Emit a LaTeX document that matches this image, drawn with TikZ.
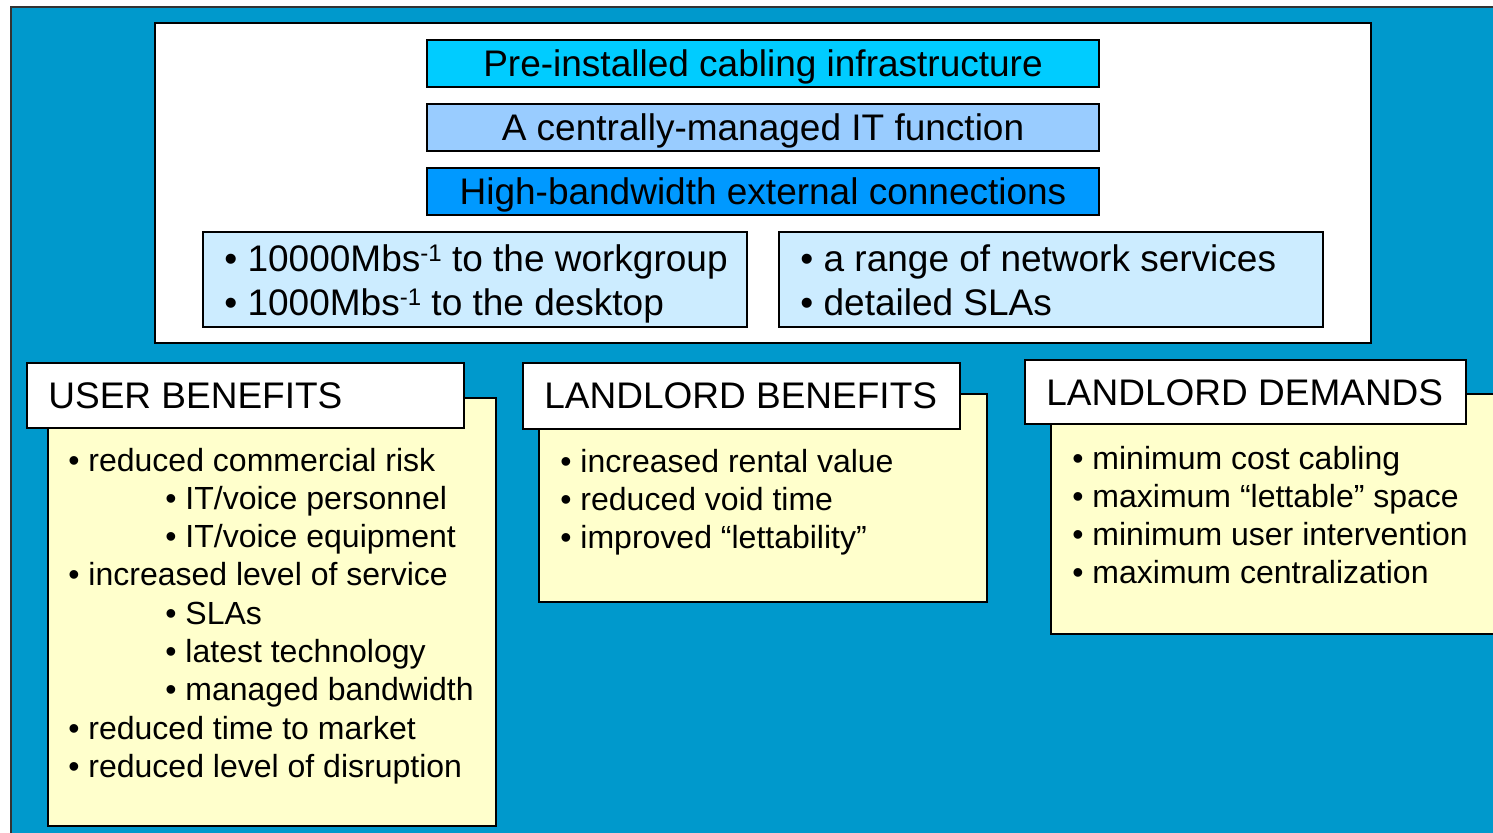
\documentclass[tikz,border=0pt]{standalone}
\usepackage{fontspec}
\setmainfont{Liberation Sans}
\usetikzlibrary{fit}
\definecolor{bgblue}{RGB}{0,153,204}
\definecolor{cyanbox}{RGB}{0,204,255}
\definecolor{lightbluebox}{RGB}{153,204,255}
\definecolor{bluebox}{RGB}{0,153,255}
\definecolor{palebox}{RGB}{204,236,255}
\definecolor{yellowbox}{RGB}{255,255,204}
\newcommand{\myinv}{\raisebox{4.6pt}{\fontsize{12}{12}\selectfont -1}}
\begin{document}
\begin{tikzpicture}[x=0.5pt,y=-0.5pt,
  boxframe/.style={draw=black,line width=0.8pt,inner sep=0pt,rectangle},
  bigtext/.style={inner sep=0pt,font=\fontsize{18.5}{22}\selectfont},
  listtext/.style={inner sep=0pt,anchor=base west,font=\fontsize{16}{19}\selectfont}]
\useasboundingbox (0,0) rectangle (1493,832);
% background
\node[boxframe,fill=bgblue,draw=black!80,fit={(11,7) (1510,850)}] (bg) {};
% white panel
\node[boxframe,fill=white,line width=1pt,fit={(155,23) (1371,343)}] (panel) {};
% title boxes
\node[boxframe,fill=cyanbox,fit={(427,40) (1099,87)}] (t1) {};
\node[boxframe,fill=lightbluebox,fit={(427,104) (1099,151)}] (t2) {};
\node[boxframe,fill=bluebox,fit={(427,168) (1099,215)}] (t3) {};
\node[bigtext,anchor=base] (t1txt) at (763,76.5) {Pre-installed cabling infrastructure};
\node[bigtext,anchor=base] (t2txt) at (763,140.5) {A centrally-managed IT function};
\node[bigtext,anchor=base] (t3txt) at (763,204.5) {High-bandwidth external connections};
% bullet boxes
\node[boxframe,fill=palebox,fit={(203,232) (747,327)}] (bl) {};
\node[boxframe,fill=palebox,fit={(779,232) (1323,327)}] (br) {};
\node[bigtext,anchor=base west] (bl1) at (224,271) {\textbullet\ 10000Mbs\myinv\ to the workgroup};
\node[bigtext,anchor=base west] (bl2) at (224,315) {\textbullet\ 1000Mbs\myinv\ to the desktop};
\node[bigtext,anchor=base west] (br1) at (800,271) {\textbullet\ a range of network services};
\node[bigtext,anchor=base west] (br2) at (800,315) {\textbullet\ detailed SLAs};
% USER BENEFITS
\node[boxframe,fill=yellowbox,fit={(48,398) (496,826)}] (ubbox) {};
\node[boxframe,fill=white,fit={(27,363) (464,428)}] (ubhead) {};
\node[bigtext,anchor=base west] (ubtxt) at (48,408) {USER BENEFITS};
\node[listtext] (ub1) at (68,471) {\textbullet\ reduced commercial risk};
\node[listtext] (ub2) at (165,509.3) {\textbullet\ IT/voice personnel};
\node[listtext] (ub3) at (165,547.6) {\textbullet\ IT/voice equipment};
\node[listtext] (ub4) at (68,585.9) {\textbullet\ increased level of service};
\node[listtext] (ub5) at (165,624.2) {\textbullet\ SLAs};
\node[listtext] (ub6) at (165,662.5) {\textbullet\ latest technology};
\node[listtext] (ub7) at (165,700.8) {\textbullet\ managed bandwidth};
\node[listtext] (ub8) at (68,739.1) {\textbullet\ reduced time to market};
\node[listtext] (ub9) at (68,777.4) {\textbullet\ reduced level of disruption};
% LANDLORD BENEFITS
\node[boxframe,fill=yellowbox,fit={(539,394) (987,602)}] (lbbox) {};
\node[boxframe,fill=white,fit={(523,363) (960,429)}] (lbhead) {};
\node[bigtext,anchor=base west] (lbtxt) at (544,408.5) {LANDLORD BENEFITS};
\node[listtext] (lb1) at (560,472) {\textbullet\ increased rental value};
\node[listtext] (lb2) at (560,510.3) {\textbullet\ reduced void time};
\node[listtext] (lb3) at (560,548.6) {\textbullet\ improved “lettability”};
% LANDLORD DEMANDS
\node[boxframe,fill=yellowbox,fit={(1051,394) (1510,634)}] (ldbox) {};
\node[boxframe,fill=white,fit={(1025,360) (1466,424)}] (ldhead) {};
\node[bigtext,anchor=base west] (ldtxt) at (1046,405) {LANDLORD DEMANDS};
\node[listtext] (ld1) at (1072,469) {\textbullet\ minimum cost cabling};
\node[listtext] (ld2) at (1072,507.3) {\textbullet\ maximum “lettable” space};
\node[listtext] (ld3) at (1072,545.6) {\textbullet\ minimum user intervention};
\node[listtext] (ld4) at (1072,583.9) {\textbullet\ maximum centralization};
\end{tikzpicture}
\end{document}
